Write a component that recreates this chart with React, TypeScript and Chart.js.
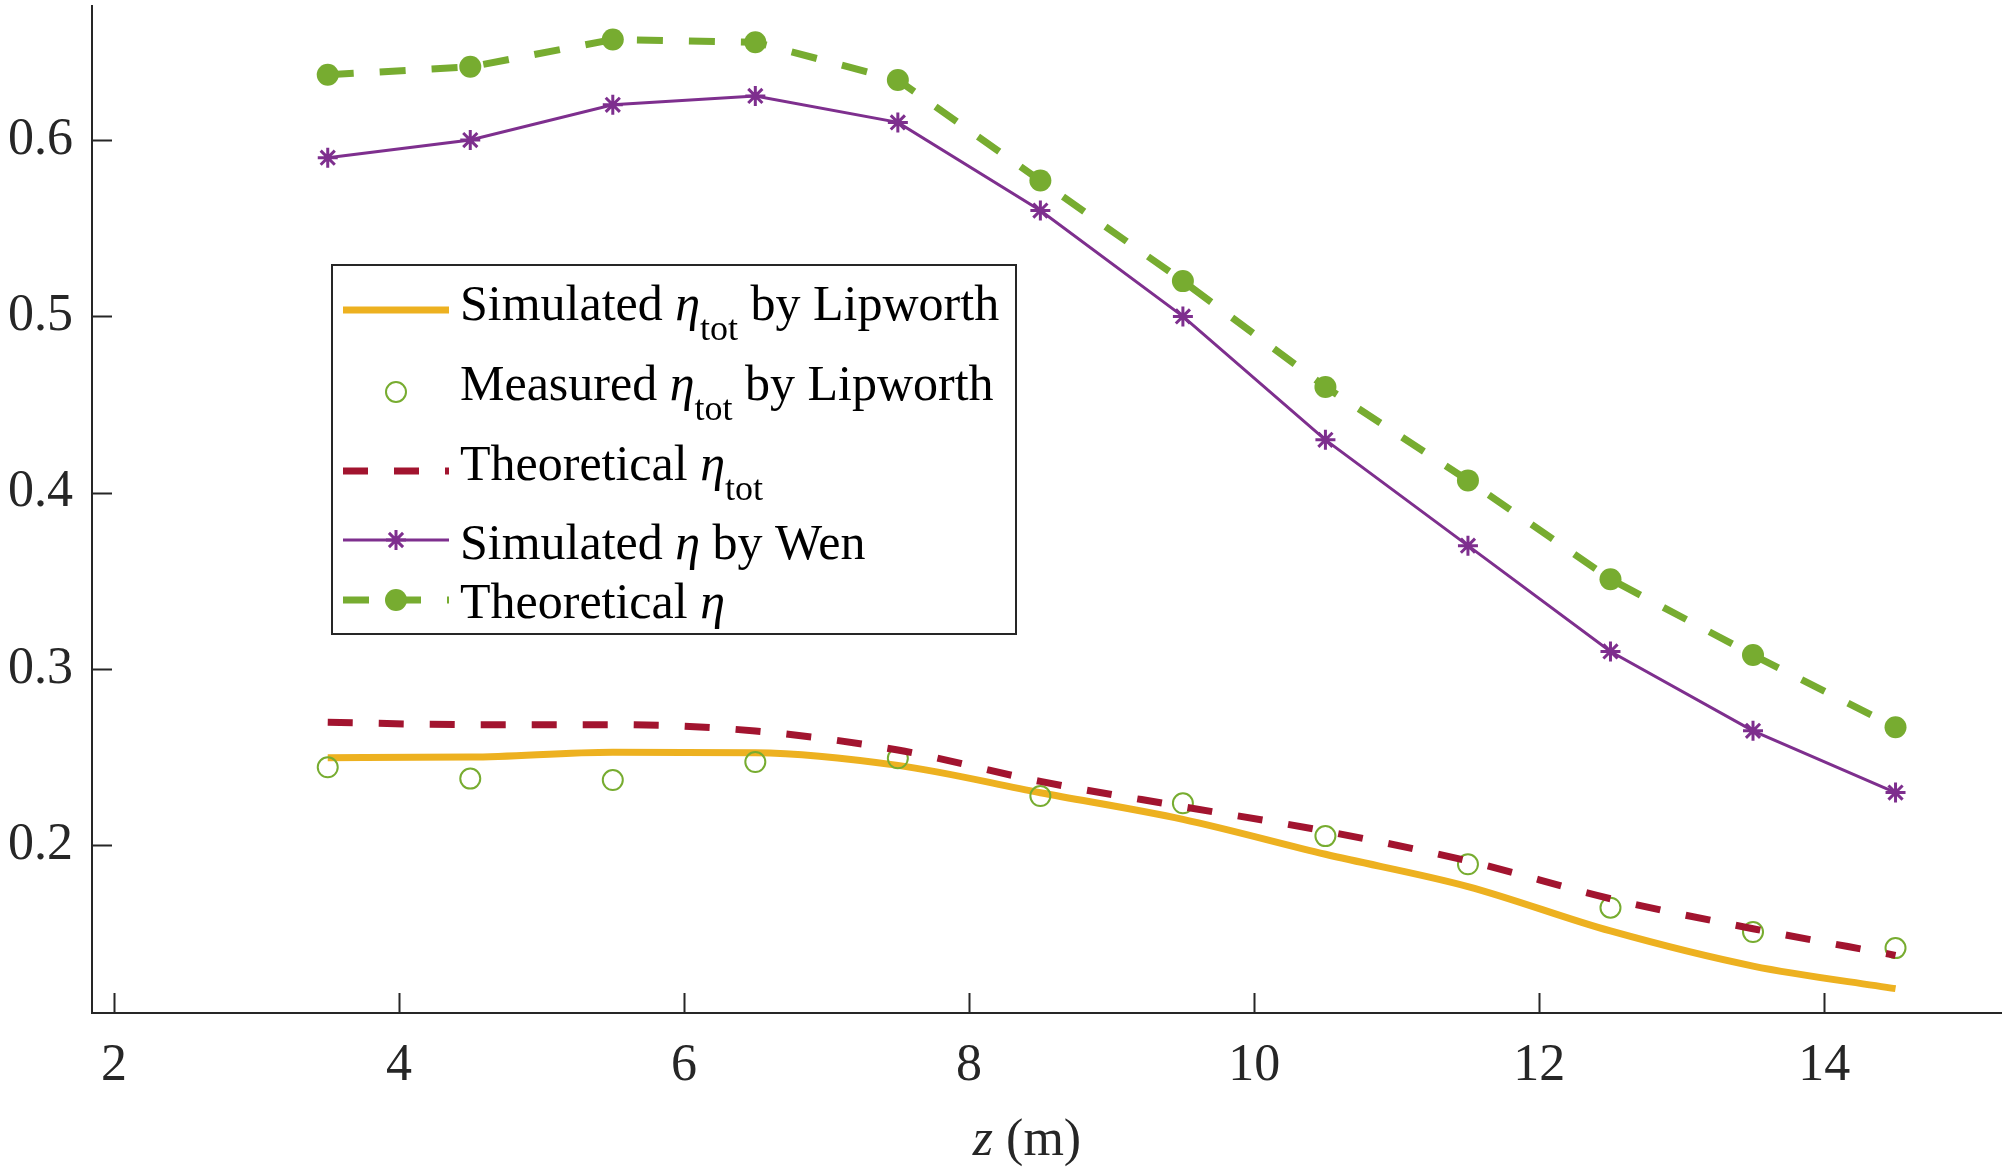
import React, { useEffect, useRef } from "react";
import { Chart, registerables } from "chart.js";

Chart.register(...registerables);

// z positions (m) of the sampled points
const zValues = [3.5, 4.5, 5.5, 6.5, 7.5, 8.5, 9.5, 10.5, 11.5, 12.5, 13.5, 14.5];

// efficiencies
const simTotLipworth = [0.2498, 0.2501, 0.2529, 0.2526, 0.2454, 0.2299, 0.2148, 0.195, 0.1767, 0.1515, 0.1316, 0.1188];
const measuredTotLipworth = [0.2443, 0.2379, 0.2371, 0.2473, 0.2494, 0.228, 0.2239, 0.2053, 0.1893, 0.1647, 0.1509, 0.1418];
const theoreticalTot = [0.2698, 0.2685, 0.2685, 0.2649, 0.2541, 0.2363, 0.222, 0.2081, 0.1912, 0.1698, 0.1528, 0.1377];
const simEtaWen = [0.59, 0.6, 0.62, 0.625, 0.61, 0.56, 0.5, 0.43, 0.37, 0.31, 0.265, 0.23];
const theoreticalEta = [0.637, 0.6415, 0.657, 0.6555, 0.634, 0.577, 0.52, 0.46, 0.407, 0.351, 0.308, 0.267];

const xTicks = [2, 4, 6, 8, 10, 12, 14];
const yTicks = [0.2, 0.3, 0.4, 0.5, 0.6];

type Part = { text: string; italic?: boolean; sub?: boolean };

const legendLabels: Part[][] = [
  [{ text: "Simulated " }, { text: "η", italic: true }, { text: "tot", sub: true }, { text: " by Lipworth" }],
  [{ text: "Measured " }, { text: "η", italic: true }, { text: "tot", sub: true }, { text: " by Lipworth" }],
  [{ text: "Theoretical " }, { text: "η", italic: true }, { text: "tot", sub: true }],
  [{ text: "Simulated " }, { text: "η", italic: true }, { text: " by Wen" }],
  [{ text: "Theoretical " }, { text: "η", italic: true }],
];

const xTitle: Part[] = [{ text: "z", italic: true }, { text: " (m)" }];

const FONT = '"Liberation Serif", "Times New Roman", serif';
const AXIS_COLOR = "#262626";
const YELLOW = "#EDB120";
const RED = "#A2142F";
const PURPLE = "#7E2F8E";
const GREEN = "#77AC30";

const toPoints = (ys: number[]) => zValues.map((z, i) => ({ x: z, y: ys[i] }));

function partFont(p: Part, size: number) {
  const s = p.sub ? Math.round(size * 0.72) : size;
  return `${p.italic ? "italic " : ""}${s}px ${FONT}`;
}

function richWidth(ctx: CanvasRenderingContext2D, parts: Part[], size: number) {
  let w = 0;
  parts.forEach((p) => {
    ctx.font = partFont(p, size);
    w += ctx.measureText(p.text).width;
  });
  return w;
}

function drawRich(ctx: CanvasRenderingContext2D, x: number, y: number, parts: Part[], size: number) {
  let cx = x;
  parts.forEach((p) => {
    ctx.font = partFont(p, size);
    ctx.fillText(p.text, cx, p.sub ? y + size * 0.4 : y);
    cx += ctx.measureText(p.text).width;
  });
}

function drawStar(ctx: CanvasRenderingContext2D, x: number, y: number, r: number) {
  ctx.beginPath();
  for (let k = 0; k < 4; k++) {
    const a = (k * Math.PI) / 4;
    ctx.moveTo(x - r * Math.cos(a), y - r * Math.sin(a));
    ctx.lineTo(x + r * Math.cos(a), y + r * Math.sin(a));
  }
  ctx.stroke();
}

// MATLAB style ticks pointing into the axes
const inwardTicks = {
  id: "inwardTicks",
  afterDraw(chart: any) {
    const { ctx, chartArea, scales } = chart;
    ctx.save();
    ctx.strokeStyle = AXIS_COLOR;
    ctx.lineWidth = 2;
    ctx.beginPath();
    xTicks.forEach((v) => {
      const px = Math.round(scales.x.getPixelForValue(v)) + 0.5;
      ctx.moveTo(px, chartArea.bottom);
      ctx.lineTo(px, chartArea.bottom - 20);
    });
    yTicks.forEach((v) => {
      const py = Math.round(scales.y.getPixelForValue(v)) + 0.5;
      ctx.moveTo(chartArea.left, py);
      ctx.lineTo(chartArea.left + 20, py);
    });
    ctx.stroke();
    ctx.restore();
  },
};

const axisTitle = {
  id: "axisTitle",
  afterDraw(chart: any) {
    const { ctx } = chart;
    ctx.save();
    ctx.fillStyle = AXIS_COLOR;
    ctx.textBaseline = "alphabetic";
    ctx.textAlign = "left";
    const w = richWidth(ctx, xTitle, 52);
    drawRich(ctx, 1027 - w / 2, 1155, xTitle, 52);
    ctx.restore();
  },
};

const boxLegend = {
  id: "boxLegend",
  afterDraw(chart: any) {
    const { ctx } = chart;
    const left = 332, top = 265, right = 1016, bottom = 634;
    const x0 = 343, x1 = 449, xm = 396, textX = 460;
    const sampleY = [310, 392, 471, 540, 600];
    const baseY = [320, 400, 480, 559, 618];
    ctx.save();
    ctx.fillStyle = "#ffffff";
    ctx.fillRect(left, top, right - left, bottom - top);
    ctx.strokeStyle = AXIS_COLOR;
    ctx.lineWidth = 2;
    ctx.strokeRect(left, top, right - left, bottom - top);

    // samples
    ctx.lineCap = "butt";
    ctx.strokeStyle = YELLOW;
    ctx.lineWidth = 7;
    ctx.beginPath();
    ctx.moveTo(x0, sampleY[0]);
    ctx.lineTo(x1, sampleY[0]);
    ctx.stroke();

    ctx.strokeStyle = GREEN;
    ctx.lineWidth = 2;
    ctx.beginPath();
    ctx.arc(xm, sampleY[1], 10, 0, Math.PI * 2);
    ctx.stroke();

    ctx.strokeStyle = RED;
    ctx.lineWidth = 7;
    ctx.setLineDash([25, 26]);
    ctx.beginPath();
    ctx.moveTo(x0, sampleY[2]);
    ctx.lineTo(x1, sampleY[2]);
    ctx.stroke();
    ctx.setLineDash([]);

    ctx.strokeStyle = PURPLE;
    ctx.lineWidth = 3;
    ctx.beginPath();
    ctx.moveTo(x0, sampleY[3]);
    ctx.lineTo(x1, sampleY[3]);
    ctx.stroke();
    drawStar(ctx, xm, sampleY[3], 10);

    ctx.strokeStyle = GREEN;
    ctx.lineWidth = 7;
    ctx.setLineDash([26, 26]);
    ctx.beginPath();
    ctx.moveTo(x0, sampleY[4]);
    ctx.lineTo(x1, sampleY[4]);
    ctx.stroke();
    ctx.setLineDash([]);
    ctx.fillStyle = GREEN;
    ctx.beginPath();
    ctx.arc(xm, sampleY[4], 11, 0, Math.PI * 2);
    ctx.fill();

    // labels
    ctx.fillStyle = "#000000";
    ctx.textAlign = "left";
    ctx.textBaseline = "alphabetic";
    legendLabels.forEach((parts, i) => drawRich(ctx, textX, baseY[i], parts, 50));
    ctx.restore();
  },
};

const noPadding = (scale: any) => {
  scale.paddingTop = 0;
  scale.paddingBottom = 0;
  scale.paddingLeft = 0;
  scale.paddingRight = 0;
};

export default function App() {
  const canvasRef = useRef<HTMLCanvasElement | null>(null);
  const chartRef = useRef<Chart | null>(null);

  useEffect(() => {
    document.body.style.margin = "0";
    if (!canvasRef.current) return;

    const tickFont = { family: FONT, size: 52 };

    chartRef.current = new Chart(canvasRef.current, {
      type: "line",
      data: {
        datasets: [
          {
            label: "Simulated η_tot by Lipworth",
            data: toPoints(simTotLipworth),
            borderColor: YELLOW,
            borderWidth: 7,
            pointRadius: 0,
            cubicInterpolationMode: "monotone",
            fill: false,
            order: 5,
          },
          {
            label: "Measured η_tot by Lipworth",
            data: toPoints(measuredTotLipworth),
            showLine: false,
            pointStyle: "circle",
            pointRadius: 10,
            pointBorderWidth: 2,
            pointBorderColor: GREEN,
            pointBackgroundColor: "rgba(0,0,0,0)",
            order: 4,
          },
          {
            label: "Theoretical η_tot",
            data: toPoints(theoreticalTot),
            borderColor: RED,
            borderWidth: 7,
            borderDash: [25, 26],
            pointRadius: 0,
            cubicInterpolationMode: "monotone",
            fill: false,
            order: 3,
          },
          {
            label: "Simulated η by Wen",
            data: toPoints(simEtaWen),
            borderColor: PURPLE,
            borderWidth: 3,
            pointStyle: "star",
            pointRadius: 10,
            pointBorderWidth: 3,
            pointBorderColor: PURPLE,
            tension: 0,
            fill: false,
            order: 2,
          },
          {
            label: "Theoretical η",
            data: toPoints(theoreticalEta),
            borderColor: GREEN,
            borderWidth: 7,
            borderDash: [26, 26],
            pointStyle: "circle",
            pointRadius: 11,
            pointBorderWidth: 0,
            pointBackgroundColor: GREEN,
            tension: 0,
            fill: false,
            order: 1,
          },
        ],
      },
      options: {
        animation: false,
        responsive: true,
        maintainAspectRatio: false,
        layout: { autoPadding: false, padding: { top: 6, right: 7, left: 0, bottom: 0 } },
        plugins: {
          legend: { display: false },
          tooltip: { enabled: false },
        },
        scales: {
          x: {
            type: "linear",
            min: 1.846,
            max: 15.24,
            afterBuildTicks: (scale: any) => {
              scale.ticks = xTicks.map((v) => ({ value: v }));
            },
            afterFit: (scale: any) => {
              scale.height = 162;
              noPadding(scale);
            },
            grid: { display: false, drawTicks: false },
            border: { display: true, color: AXIS_COLOR, width: 2 },
            ticks: {
              font: tickFont,
              color: AXIS_COLOR,
              padding: 22,
              maxRotation: 0,
              autoSkip: false,
            },
          },
          y: {
            type: "linear",
            min: 0.105,
            max: 0.676,
            afterBuildTicks: (scale: any) => {
              scale.ticks = yTicks.map((v) => ({ value: v }));
            },
            afterFit: (scale: any) => {
              scale.width = 92;
              noPadding(scale);
            },
            grid: { display: false, drawTicks: false },
            border: { display: true, color: AXIS_COLOR, width: 2 },
            ticks: {
              font: tickFont,
              color: AXIS_COLOR,
              padding: 19,
              autoSkip: false,
              callback: (v: any) => Number(v).toFixed(1),
            },
          },
        },
      },
      plugins: [inwardTicks, axisTitle, boxLegend],
    } as any);

    return () => {
      if (chartRef.current) {
        chartRef.current.destroy();
        chartRef.current = null;
      }
    };
  }, []);

  return (
    <div style={{ position: "relative", width: 2008, height: 1175 }}>
      <canvas ref={canvasRef}></canvas>
    </div>
  );
}
